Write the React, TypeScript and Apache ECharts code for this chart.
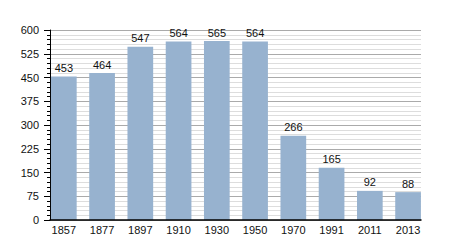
import React, { useEffect, useRef } from "react";
import * as echarts from "echarts";

const years = ["1857", "1877", "1897", "1910", "1930", "1950", "1970", "1991", "2011", "2013"];
const population = [453, 464, 547, 564, 565, 564, 266, 165, 92, 88];

const FONT = "'Liberation Sans', Arial, sans-serif";

export default function App() {
  const ref = useRef<HTMLDivElement>(null);
  useEffect(() => {
    if (!ref.current) return;
    document.body.style.margin = "0";
    const chart = echarts.init(ref.current, undefined, { renderer: "svg" });
    chart.setOption({
      animation: false,
      backgroundColor: "#ffffff",
      grid: [
        { left: 50, right: 29, top: 30, bottom: 30 },
        { left: 44.7, right: 22.8, top: 30, bottom: 30 },
      ],
      xAxis: [
        {
          gridIndex: 0,
          type: "category",
          data: years,
          z: 10,
          axisLine: { show: true, lineStyle: { color: "#000", width: 1.5 } },
          axisTick: { show: false },
          axisLabel: { show: false },
          splitLine: { show: false },
        },
        {
          gridIndex: 1,
          type: "category",
          data: years,
          axisLine: { show: false },
          axisTick: { show: false },
          axisLabel: { fontFamily: FONT, fontSize: 11, color: "#111", margin: 4 },
        },
      ],
      yAxis: [
        {
          gridIndex: 0,
          type: "value",
          min: 0,
          max: 600,
          interval: 75,
          axisLine: { show: true, lineStyle: { color: "#000", width: 1 } },
          axisTick: { show: true, length: 6, lineStyle: { color: "#000" } },
          minorTick: { show: true, splitNumber: 5, length: 3, lineStyle: { color: "#000" } },
          axisLabel: { fontFamily: FONT, fontSize: 11, color: "#111", margin: 11 },
          splitLine: { show: true, lineStyle: { color: "#aaaaaa", width: 1 } },
          minorSplitLine: { show: true, lineStyle: { color: "#dddddd", width: 1 } },
        },
        {
          gridIndex: 1,
          type: "value",
          min: 0,
          max: 600,
          show: false,
          splitLine: { show: false },
        },
      ],
      series: [
        {
          type: "bar",
          xAxisIndex: 1,
          yAxisIndex: 1,
          data: population,
          barWidth: 25.7,
          itemStyle: { color: "#97b2cf" },
          label: {
            show: true,
            position: "top",
            distance: 3,
            fontFamily: FONT,
            fontSize: 11,
            color: "#111",
          },
        },
      ],
    });
    return () => chart.dispose();
  }, []);
  return <div ref={ref} style={{ width: 450, height: 250 }} />;
}
